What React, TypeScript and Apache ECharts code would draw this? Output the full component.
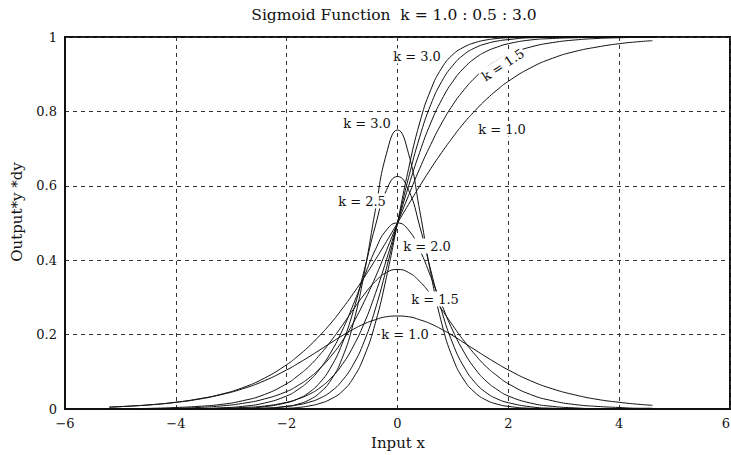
import React, { useEffect, useRef } from 'react';
import * as echarts from 'echarts';

const FONT = "'DejaVu Serif', 'Liberation Serif', serif";

// Input x positions
const xs = [-5.2, -4.8, -4.4, -4.0, -3.6, -3.2, -2.8, -2.4, -2.0, -1.8, -1.6, -1.4, -1.2, -1.0, -0.8, -0.6, -0.4, -0.2, 0, 0.2, 0.4, 0.6, 0.8, 1.0, 1.2, 1.4, 1.6, 1.8, 2.0, 2.4, 2.8, 3.2, 3.6, 4.0, 4.4, 4.6];

// Sigmoid outputs y
const sigK10 = [0.005, 0.008, 0.012, 0.018, 0.027, 0.039, 0.057, 0.083, 0.119, 0.142, 0.168, 0.198, 0.231, 0.269, 0.31, 0.354, 0.401, 0.45, 0.5, 0.55, 0.599, 0.646, 0.69, 0.731, 0.769, 0.802, 0.832, 0.858, 0.881, 0.917, 0.943, 0.961, 0.973, 0.982, 0.988, 0.99];
const sigK15 = [0.0, 0.001, 0.001, 0.002, 0.004, 0.008, 0.015, 0.027, 0.047, 0.063, 0.083, 0.109, 0.142, 0.182, 0.231, 0.289, 0.354, 0.426, 0.5, 0.574, 0.646, 0.711, 0.769, 0.818, 0.858, 0.891, 0.917, 0.937, 0.953, 0.973, 0.985, 0.992, 0.996, 0.998, 0.999, 0.999];
const sigK20 = [0.0, 0.0, 0.0, 0.0, 0.001, 0.002, 0.004, 0.008, 0.018, 0.027, 0.039, 0.057, 0.083, 0.119, 0.168, 0.231, 0.31, 0.401, 0.5, 0.599, 0.69, 0.769, 0.832, 0.881, 0.917, 0.943, 0.961, 0.973, 0.982, 0.992, 0.996, 0.998, 0.999, 1.0, 1.0, 1.0];
const sigK25 = [0, 0, 0, 0, 0, 0, 0.001, 0.002, 0.007, 0.011, 0.018, 0.029, 0.047, 0.076, 0.119, 0.182, 0.269, 0.378, 0.5, 0.622, 0.731, 0.818, 0.881, 0.924, 0.953, 0.971, 0.982, 0.989, 0.993, 0.998, 0.999, 1, 1, 1, 1, 1];
const sigK30 = [0, 0, 0, 0, 0, 0, 0, 0.001, 0.002, 0.004, 0.008, 0.015, 0.027, 0.047, 0.083, 0.142, 0.231, 0.354, 0.5, 0.646, 0.769, 0.858, 0.917, 0.953, 0.973, 0.985, 0.992, 0.996, 0.998, 0.999, 1, 1, 1, 1, 1, 1];

// Derivatives dy
const dK10 = [0.005, 0.008, 0.012, 0.018, 0.026, 0.038, 0.054, 0.076, 0.105, 0.122, 0.14, 0.159, 0.178, 0.197, 0.214, 0.229, 0.24, 0.248, 0.25, 0.248, 0.24, 0.229, 0.214, 0.197, 0.178, 0.159, 0.14, 0.122, 0.105, 0.076, 0.054, 0.038, 0.026, 0.018, 0.012, 0.01];
const dK15 = [0.001, 0.001, 0.002, 0.004, 0.007, 0.012, 0.022, 0.039, 0.068, 0.089, 0.114, 0.146, 0.183, 0.224, 0.267, 0.308, 0.343, 0.367, 0.375, 0.367, 0.343, 0.308, 0.267, 0.224, 0.183, 0.146, 0.114, 0.089, 0.068, 0.039, 0.022, 0.012, 0.007, 0.004, 0.002, 0.002];
const dK20 = [0, 0, 0, 0.001, 0.001, 0.003, 0.007, 0.016, 0.035, 0.052, 0.075, 0.108, 0.153, 0.21, 0.28, 0.356, 0.428, 0.481, 0.5, 0.481, 0.428, 0.356, 0.28, 0.21, 0.153, 0.108, 0.075, 0.052, 0.035, 0.016, 0.007, 0.003, 0.001, 0.001, 0, 0];
const dK25 = [0, 0, 0, 0, 0, 0.001, 0.002, 0.006, 0.017, 0.027, 0.044, 0.071, 0.113, 0.175, 0.262, 0.373, 0.492, 0.588, 0.625, 0.588, 0.492, 0.373, 0.262, 0.175, 0.113, 0.071, 0.044, 0.027, 0.017, 0.006, 0.002, 0.001, 0, 0, 0, 0];
const dK30 = [0, 0, 0, 0, 0, 0, 0.001, 0.002, 0.007, 0.013, 0.024, 0.044, 0.078, 0.136, 0.229, 0.365, 0.534, 0.686, 0.75, 0.686, 0.534, 0.365, 0.229, 0.136, 0.078, 0.044, 0.024, 0.013, 0.007, 0.002, 0.001, 0, 0, 0, 0, 0];

const seriesNames = ['y k=1.0', 'y k=1.5', 'y k=2.0', 'y k=2.5', 'y k=3.0', 'dy k=1.0', 'dy k=1.5', 'dy k=2.0', 'dy k=2.5', 'dy k=3.0'];
const seriesValues = [sigK10, sigK15, sigK20, sigK25, sigK30, dK10, dK15, dK20, dK25, dK30];

const titleText = 'Sigmoid Function  k = 1.0 : 0.5 : 3.0';
const xName = 'Input x';
const yName = 'Output*y *dy';

export default function App() {
  const ref = useRef<HTMLDivElement>(null);
  useEffect(() => {
    const chart = echarts.init(ref.current!, null, { renderer: 'svg' });
    const label = (text: string, x: number, y: number, rot = 0) => ({
      type: 'text',
      x,
      y,
      rotation: rot,
      z: 100,
      style: {
        text,
        fontSize: 13,
        fontFamily: FONT,
        fill: '#111',
        align: 'center',
        verticalAlign: 'middle',
        backgroundColor: '#fff',
        padding: [1, 1],
      },
    });
    const option: any = {
      animation: false,
      backgroundColor: '#fff',
      grid: {
        left: 65,
        right: 1,
        top: 37,
        bottom: 46,
        show: true,
        borderColor: '#111',
        borderWidth: 2,
        outerBoundsMode: 'none',
        containLabel: false,
      },
      xAxis: {
        type: 'value',
        min: -6,
        max: 6,
        interval: 2,
        axisLine: { show: true, onZero: false, lineStyle: { color: '#111', width: 2 } },
        axisTick: { show: false },
        splitLine: { show: true, lineStyle: { color: '#333', type: [4, 4], width: 1 } },
        axisLabel: {
          color: '#111',
          fontSize: 13,
          fontFamily: FONT,
          margin: 8,
          alignMaxLabel: 'right',
          formatter: (v: number) => (v < 0 ? '\u2212' + Math.abs(v) : String(v)),
        },
      },
      yAxis: {
        type: 'value',
        min: 0,
        max: 1,
        interval: 0.2,
        axisLine: { show: true, onZero: false, lineStyle: { color: '#111', width: 2 } },
        axisTick: { show: false },
        splitLine: { show: true, lineStyle: { color: '#333', type: [4, 4], width: 1 } },
        axisLabel: {
          color: '#111',
          fontSize: 13,
          fontFamily: FONT,
          margin: 8,
          formatter: (v: number) => String(+v.toFixed(1)),
        },
      },
      series: seriesValues.map((vals, i) => ({
        name: seriesNames[i],
        type: 'line',
        data: xs.map((x, j) => [x, vals[j]]),
        showSymbol: false,
        smooth: true,
        lineStyle: { color: '#111', width: 1 },
        silent: true,
      })),
      graphic: [
        {
          type: 'text',
          x: 394,
          y: 15,
          style: { text: titleText, fontSize: 15.5, fontFamily: FONT, fill: '#111', align: 'center', verticalAlign: 'middle' },
        },
        {
          type: 'text',
          x: 398,
          y: 443,
          style: { text: xName, fontSize: 15, fontFamily: FONT, fill: '#111', align: 'center', verticalAlign: 'middle' },
        },
        {
          type: 'text',
          x: 17,
          y: 212,
          rotation: Math.PI / 2,
          style: { text: yName, fontSize: 15, fontFamily: FONT, fill: '#111', align: 'center', verticalAlign: 'middle' },
        },
        label('k = 3.0', 417, 56),
        label('k = 1.5', 503, 65, (33 * Math.PI) / 180),
        label('k = 1.0', 502, 129),
        label('k = 3.0', 367, 123),
        label('k = 2.5', 362, 201),
        label('k = 2.0', 427, 246),
        label('k = 1.5', 435, 299),
        label('k = 1.0', 405, 334),
      ],
    };
    chart.setOption(option);
    return () => chart.dispose();
  }, []);
  return <div ref={ref} style={{ position: 'fixed', left: 0, top: 0, width: 731, height: 455 }} />;
}
